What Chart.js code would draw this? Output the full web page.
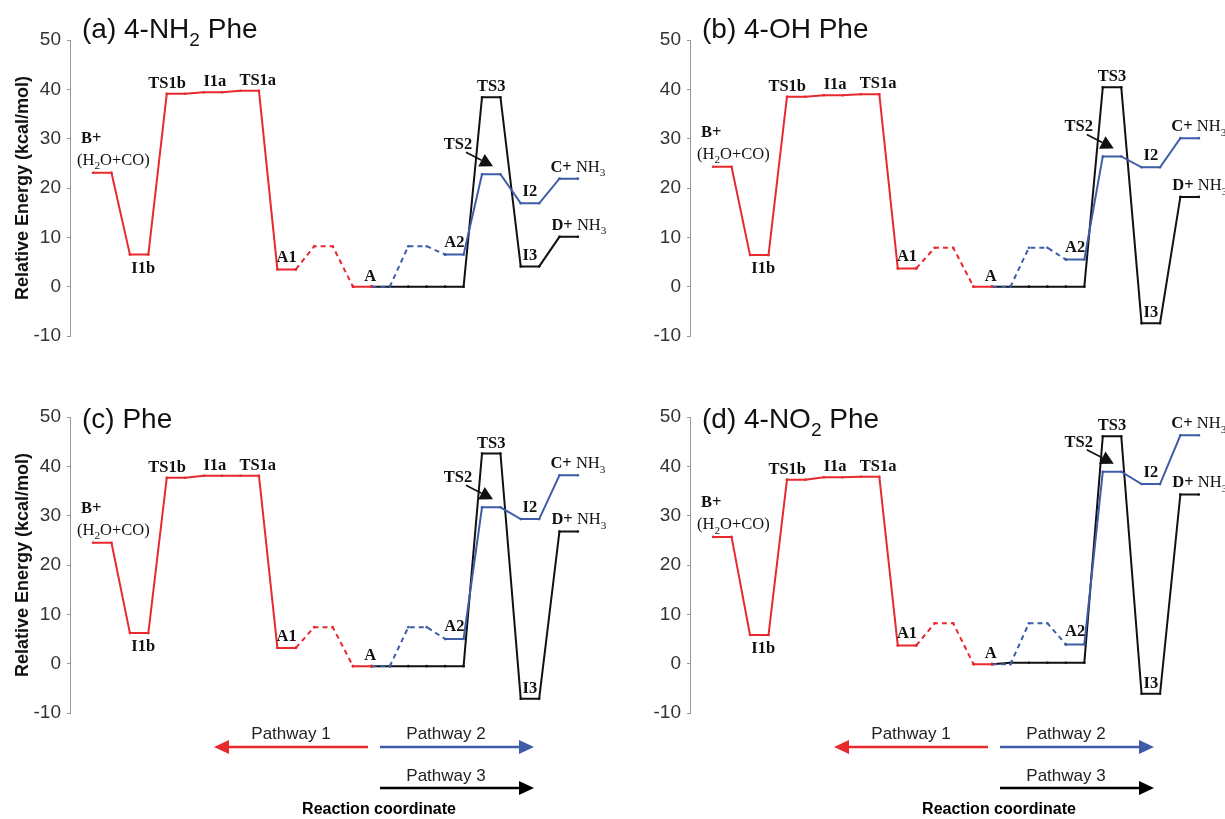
<!DOCTYPE html>
<html>
<head>
<meta charset="utf-8">
<script src="https://cdn.jsdelivr.net/npm/chart.js@4.4.1/dist/chart.umd.min.js"></script>
<style>
  html, body { margin: 0; padding: 0; background: #fff; }
  body { width: 1225px; height: 819px; position: relative; overflow: hidden; }
  .panel { position: absolute; }
  #pa { left: 0; top: 0; width: 612px; height: 370px; }
  #pb { left: 612px; top: 0; width: 613px; height: 370px; }
  #pc { left: 0; top: 370px; width: 612px; height: 449px; }
  #pd { left: 612px; top: 370px; width: 613px; height: 449px; }
</style>
</head>
<body>
<div class="panel" id="pa"><canvas id="chart-a"></canvas></div>
<div class="panel" id="pb"><canvas id="chart-b"></canvas></div>
<div class="panel" id="pc"><canvas id="chart-c"></canvas></div>
<div class="panel" id="pd"><canvas id="chart-d"></canvas></div>
<script>
/**
 * Energy profiles of the four substituted Phe systems
 */

// Reaction coordinate slots (start of each level, one unit wide)
const path1Names = ["B+", "I1b", "TS1b", "I1a", "TS1a", "A1", "TSA1", "A"];
const path1Slots = [0, 2, 4, 6, 8, 10, 12, 14.1];
const path2Names = ["TSA2", "A2", "TS2", "I2", "C"];
const path2Slots = [17.1, 19.1, 21.1, 23.2, 25.3];
const path3Names = ["A0", "TS3", "I3", "D"];
const path3Slots = [16.1, 21.1, 23.2, 25.3];

// Relative energies (kcal/mol)
const nh2Path1 = [23.1, 6.5, 39.1, 39.4, 39.7, 3.5, 8.2, 0];
const nh2Path2 = [8.2, 6.5, 22.8, 16.9, 21.9];
const nh2Path3 = [0, 38.4, 4.1, 10.1];

const ohPath1 = [24.3, 6.4, 38.5, 38.8, 39.0, 3.7, 7.9, 0];
const ohPath2 = [7.9, 5.5, 26.4, 24.2, 30.1];
const ohPath3 = [0, 40.4, -7.4, 18.2];

const phePath1 = [24.5, 6.2, 37.7, 38.1, 38.1, 3.2, 7.4, -0.5];
const phePath2 = [7.4, 5.0, 31.7, 29.3, 38.2];
const phePath3 = [-0.5, 42.6, -7.1, 26.8];

const no2Path1 = [25.7, 5.8, 37.3, 37.8, 37.9, 3.7, 8.2, -0.1];
const no2Path2 = [8.2, 3.9, 38.9, 36.4, 46.3];
const no2Path3 = [0.2, 46.1, -6.1, 34.3];

const yTicks = [-10, 0, 10, 20, 30, 40, 50];

const RED = "#e8292e";
const BLUE = "#3f5ca8";
const BLACK = "#111";
const SANS = "'Liberation Sans', Arial, sans-serif";
const SERIF = "'Liberation Serif', 'Times New Roman', serif";
const LEVEL = 1;

function levelPoints(slots, energies) {
  const pts = [];
  slots.forEach((s, i) => {
    pts.push({ x: s, y: energies[i] }, { x: s + LEVEL, y: energies[i] });
  });
  return pts;
}

function line(data, color, dashed, order) {
  return {
    data,
    borderColor: color,
    backgroundColor: color,
    borderWidth: 2,
    borderDash: dashed ? [5, 4] : [],
    pointRadius: 1.3,
    pointBorderWidth: 0,
    pointBackgroundColor: color,
    tension: 0,
    spanGaps: false,
    order,
  };
}

function buildDatasets(p1, p2, p3) {
  const aVal = p1[7];
  const aEnd = path1Slots[7] + LEVEL;

  const redSolid = levelPoints(path1Slots.slice(0, 6), p1.slice(0, 6));
  redSolid.push({ x: path1Slots[6], y: null });
  redSolid.push(...levelPoints([path1Slots[7]], [aVal]));

  const redDash = [
    { x: path1Slots[5] + LEVEL, y: p1[5] },
    ...levelPoints([path1Slots[6]], [p1[6]]),
    { x: path1Slots[7], y: aVal },
  ];

  const blueDash = [
    { x: aEnd, y: aVal },
    { x: path3Slots[0], y: aVal },
    ...levelPoints([path2Slots[0]], [p2[0]]),
    { x: path2Slots[1], y: p2[1] },
  ];

  const blueSolid = levelPoints(path2Slots.slice(1), p2.slice(1));

  const black = [{ x: aEnd, y: aVal }];
  for (let s = path3Slots[0]; s <= path2Slots[1] + LEVEL + 0.01; s += 1) {
    black.push({ x: s, y: p3[0] });
  }
  black.push(...levelPoints(path3Slots.slice(1), p3.slice(1)));

  return [
    line(redSolid, RED, false, 1),
    line(redDash, RED, true, 1),
    line(blueDash, BLUE, true, 2),
    line(blueSolid, BLUE, false, 2),
    line(black, BLACK, false, 3),
  ];
}

// text with "_x" subscripts, runs = [[text, bold], ...]
function drawRuns(ctx, runs, x, y, size, family, align) {
  const pieces = [];
  runs.forEach(([text, bold]) => {
    for (let i = 0; i < text.length; i++) {
      let sub = false;
      if (text[i] === "_") { sub = true; i++; }
      const last = pieces[pieces.length - 1];
      if (last && !sub && !last.sub && last.bold === bold) last.t += text[i];
      else pieces.push({ t: text[i], sub, bold });
    }
  });
  let total = 0;
  pieces.forEach((p) => {
    p.font = (p.bold ? "bold " : "") + (p.sub ? size * 0.68 : size) + "px " + family;
    ctx.font = p.font;
    p.w = ctx.measureText(p.t).width;
    total += p.w;
  });
  let cx = align === "center" ? x - total / 2 : x;
  ctx.textAlign = "left";
  ctx.textBaseline = "alphabetic";
  pieces.forEach((p) => {
    ctx.font = p.font;
    ctx.fillText(p.t, cx, y + (p.sub ? size * 0.28 : 0));
    cx += p.w;
  });
}

function drawArrow(ctx, x1, y1, x2, y2, color, width, headLen, headHalf) {
  const ang = Math.atan2(y2 - y1, x2 - x1);
  const bx = x2 - headLen * Math.cos(ang);
  const by = y2 - headLen * Math.sin(ang);
  ctx.strokeStyle = color;
  ctx.fillStyle = color;
  ctx.lineWidth = width;
  ctx.beginPath();
  ctx.moveTo(x1, y1);
  ctx.lineTo(bx, by);
  ctx.stroke();
  ctx.beginPath();
  ctx.moveTo(x2, y2);
  ctx.lineTo(bx + headHalf * Math.sin(ang), by - headHalf * Math.cos(ang));
  ctx.lineTo(bx - headHalf * Math.sin(ang), by + headHalf * Math.cos(ang));
  ctx.closePath();
  ctx.fill();
}

const LABELS = [
  { level: "B+", runs: [["B+", true]], ref: "x1", dx: -12, dy: -30, align: "left" },
  { level: "B+", runs: [["(H_2O+CO)", false]], ref: "x1", dx: -16, dy: -8, align: "left" },
  { level: "I1b", runs: [["I1b", true]], ref: "xc", dx: 4, dy: 18 },
  { level: "TS1b", runs: [["TS1b", true]], ref: "xc", dx: -9, dy: -6 },
  { level: "I1a", runs: [["I1a", true]], ref: "xc", dx: 2, dy: -6 },
  { level: "TS1a", runs: [["TS1a", true]], ref: "xc", dx: 8, dy: -6 },
  { level: "A1", runs: [["A1", true]], ref: "xc", dx: 0, dy: -7 },
  { level: "A", runs: [["A", true]], ref: "xc", dx: 8, dy: -6 },
  { level: "A2", runs: [["A2", true]], ref: "xc", dx: 0, dy: -8 },
  { level: "TS3", runs: [["TS3", true]], ref: "xc", dx: 0, dy: -6 },
  { level: "TS2", runs: [["TS2", true]], ref: "x1", dx: -24, dy: -25 },
  { level: "I2", runs: [["I2", true]], ref: "xc", dx: 0, dy: -7 },
  { level: "I3", runs: [["I3", true]], ref: "xc", dx: 0, dy: -6 },
  { level: "C", runs: [["C+", true], [" NH_3", false]], ref: "x1", dx: -9, dy: -7, align: "left" },
  { level: "D", runs: [["D+", true], [" NH_3", false]], ref: "x1", dx: -8, dy: -7, align: "left" },
];

const energyLabels = {
  id: "energyLabels",
  afterDraw(chart, args, opts) {
    const { ctx, chartArea } = chart;
    const xs = chart.scales.x;
    const ys = chart.scales.y;
    const lv = {};
    path1Names.forEach((n, i) => (lv[n] = { s: path1Slots[i], e: opts.p1[i] }));
    path2Names.forEach((n, i) => (lv[n] = { s: path2Slots[i], e: opts.p2[i] }));
    path3Names.forEach((n, i) => (lv[n] = { s: path3Slots[i], e: opts.p3[i] }));
    const at = (name) => {
      const l = lv[name];
      const x1 = xs.getPixelForValue(l.s);
      const x2 = xs.getPixelForValue(l.s + LEVEL);
      return { x1, x2, xc: (x1 + x2) / 2, y: ys.getPixelForValue(l.e) };
    };

    ctx.save();
    ctx.fillStyle = BLACK;
    LABELS.forEach((lab) => {
      const p = at(lab.level);
      drawRuns(ctx, lab.runs, p[lab.ref] + lab.dx, p.y + lab.dy, 16.5, SERIF, lab.align || "center");
    });

    // TS2 pointer
    const ts2 = at("TS2");
    drawArrow(ctx, ts2.x1 - 16, ts2.y - 22, ts2.x1 + 11, ts2.y - 8, BLACK, 1.6, 13, 7);

    // panel title
    ctx.fillStyle = BLACK;
    drawRuns(ctx, [[opts.title, false]], chartArea.left + 12, chartArea.top + opts.titleDy, 28, SANS, "left");

    // pathway legend under the bottom panels
    if (opts.legend) {
      const L = chartArea.left;
      const B = chartArea.bottom;
      drawArrow(ctx, L + 298, B + 34, L + 144, B + 34, RED, 2.5, 15, 7);
      drawArrow(ctx, L + 310, B + 34, L + 464, B + 34, BLUE, 2.5, 15, 7);
      drawArrow(ctx, L + 310, B + 75, L + 464, B + 75, "#000", 2.5, 15, 7);
      ctx.fillStyle = "#222";
      drawRuns(ctx, [["Pathway 1", false]], L + 221, B + 26, 17, SANS, "center");
      drawRuns(ctx, [["Pathway 2", false]], L + 376, B + 26, 17, SANS, "center");
      drawRuns(ctx, [["Pathway 3", false]], L + 376, B + 68, 17, SANS, "center");
      ctx.fillStyle = "#000";
      drawRuns(ctx, [["Reaction coordinate", true]], L + 309, B + 101, 16, SANS, "center");
    }
    ctx.restore();
  },
};

function makeChart(id, title, p1, p2, p3, o) {
  new Chart(document.getElementById(id), {
    type: "line",
    data: { datasets: buildDatasets(p1, p2, p3) },
    options: {
      responsive: true,
      maintainAspectRatio: false,
      animation: false,
      events: [],
      layout: { padding: o.padding },
      scales: {
        x: { type: "linear", min: -1.25, max: 27.5, display: false },
        y: {
          min: yTicks[0],
          max: yTicks[yTicks.length - 1],
          afterFit: (s) => { s.width = o.axisX; },
          afterBuildTicks: (s) => { s.ticks = yTicks.map((v) => ({ value: v })); },
          ticks: { color: "#333", font: { family: SANS, size: 19 }, padding: 6 },
          grid: { drawOnChartArea: false, color: "#999", tickLength: 3 },
          border: { color: "#999", width: 1 },
          title: {
            display: o.yTitle,
            text: "Relative Energy (kcal/mol)",
            color: "#111",
            font: { family: SANS, size: 18, weight: "bold" },
            padding: { top: 12, bottom: 0 },
          },
        },
      },
      plugins: {
        legend: { display: false },
        tooltip: { enabled: false },
        energyLabels: { title, p1, p2, p3, legend: o.legend, titleDy: o.titleDy },
      },
    },
    plugins: [energyLabels],
  });
}

makeChart("chart-a", "(a) 4-NH_2 Phe", nh2Path1, nh2Path2, nh2Path3, {
  axisX: 70, yTitle: true, legend: false, titleDy: -2,
  padding: { left: 0, top: 40, right: 12, bottom: 34 },
});
makeChart("chart-b", "(b) 4-OH Phe", ohPath1, ohPath2, ohPath3, {
  axisX: 78, yTitle: false, legend: false, titleDy: -2,
  padding: { left: 0, top: 40, right: 4, bottom: 34 },
});
makeChart("chart-c", "(c) Phe", phePath1, phePath2, phePath3, {
  axisX: 70, yTitle: true, legend: true, titleDy: 11,
  padding: { left: 0, top: 47, right: 12, bottom: 106 },
});
makeChart("chart-d", "(d) 4-NO_2 Phe", no2Path1, no2Path2, no2Path3, {
  axisX: 78, yTitle: false, legend: true, titleDy: 11,
  padding: { left: 0, top: 47, right: 4, bottom: 106 },
});
</script>
</body>
</html>
